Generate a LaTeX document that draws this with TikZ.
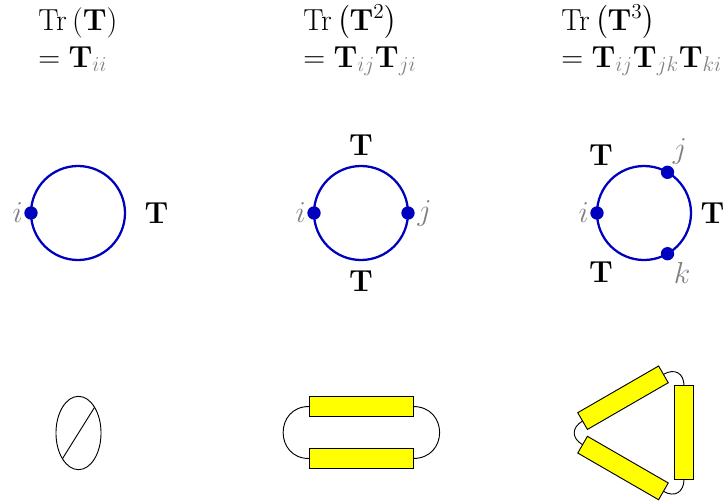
\documentclass[tikz,border=0pt]{standalone}
\usepackage{fix-cm}
\usepackage{amsmath}
\usepackage{xcolor}
\usepackage{tikz}
\usetikzlibrary{positioning, shapes.geometric}
\newcommand{\tens}{\mathbf{T}}
\newcommand{\idx}[1]{{\color{gray}#1}}
\definecolor{tyellow}{RGB}{255,255,0}

\begin{document}
\begin{tikzpicture}[x=0.75pt, y=-0.75pt, font=\fontsize{22.8}{26}\selectfont,
    ring/.style ={draw=blue!75!black, line width=1.7pt, circle, inner sep=0pt, outer sep=0pt, minimum size=70.5pt},
    dot/.style  ={fill=blue!75!black, circle, inner sep=0pt, minimum size=10pt},
    lab/.style  ={inner sep=0pt, text=gray},
    tlab/.style ={inner sep=0pt},
    head/.style ={anchor=north west, align=left, inner sep=0pt},
    block/.style={draw=black, fill=tyellow, line width=0.7pt, inner sep=0pt, outer sep=0pt, minimum width=78pt, minimum height=15.5pt},
    wire/.style ={line width=0.7pt}]
    \useasboundingbox (0,0) rectangle (724,501);
    % headers
    \node[head] (h1) at (38,5) {$\vphantom{\left(\tens^2\right)}\mathrm{Tr}\left(\tens\right)$\\[2pt]$=\tens_{\idx{ii}}$};
    \node[head] (h2) at (303,5) {$\mathrm{Tr}\left(\tens^2\right)$\\[2pt]$=\tens_{\idx{ij}}\tens_{\idx{ji}}$};
    \node[head] (h3) at (561,5) {$\mathrm{Tr}\left(\tens^3\right)$\\[2pt]$=\tens_{\idx{ij}}\tens_{\idx{jk}}\tens_{\idx{ki}}$};
    % one index
    \node[ring] (r1) at (78,213) {};
    \node[dot] (d1) at (r1.west) {};
    \node[lab, left=6pt of d1.center] (i1) {$i$};
    \node[tlab, right=14.5pt of r1] (t1) {$\tens$};
    % two indices
    \node[ring] (r2) at (361,213) {};
    \node[dot] (d2i) at (r2.west) {};
    \node[dot] (d2j) at (r2.east) {};
    \node[lab, left=6pt of d2i.center] (i2) {$i$};
    \node[lab, right=7pt of d2j.center] (j2) {$j$};
    \node[tlab, above=8pt of r2] (t2a) {$\tens$};
    \node[tlab, below=8pt of r2] (t2b) {$\tens$};
    % three indices
    \node[ring] (r3) at (644,213) {};
    \node[dot] (d3i) at (r3.west) {};
    \node[dot] (d3j) at (r3.60) {};
    \node[dot] (d3k) at (r3.-60) {};
    \node[lab, left=6pt of d3i.center] (i3) {$i$};
    \node[lab] (j3) at (680,151) {$j$};
    \node[lab] (k3) at (682,273) {$k$};
    \node[tlab] (t3a) at (601,155) {$\tens$};
    \node[tlab] (t3b) at (712.5,213) {$\tens$};
    \node[tlab] (t3c) at (601,272) {$\tens$};
    % bottom row
    \node[draw, ellipse, line width=0.7pt, inner sep=0pt, outer sep=0pt, minimum width=33.8pt, minimum height=55pt] (e1) at (78.5,433) {};
    \draw[wire] (e1.58.6) -- (e1.238.6);
    \node[block] (b2a) at (361,406.5) {};
    \node[block] (b2b) at (361,458.5) {};
    \draw[wire] (b2a.west) to[out=180, in=180, looseness=1.7] (b2b.west);
    \draw[wire] (b2a.east) to[out=0, in=0, looseness=1.75] (b2b.east);
    \node[block, minimum width=70pt, minimum height=14.5pt, rotate=30] (b3a) at (623,397.7) {};
    \node[block, minimum width=70pt, minimum height=14.5pt, rotate=-30] (b3c) at (623,468) {};
    \node[block, minimum width=70pt, minimum height=14.5pt, rotate=90] (b3b) at (684,432.5) {};
    \draw[wire] (b3a.east) to[out=30, in=90, looseness=1.4] (b3b.east);
    \draw[wire] (b3a.west) to[out=210, in=150, looseness=1.4] (b3c.west);
    \draw[wire] (b3c.east) to[out=-30, in=-90, looseness=1.4] (b3b.west);
\end{tikzpicture}
\end{document}
